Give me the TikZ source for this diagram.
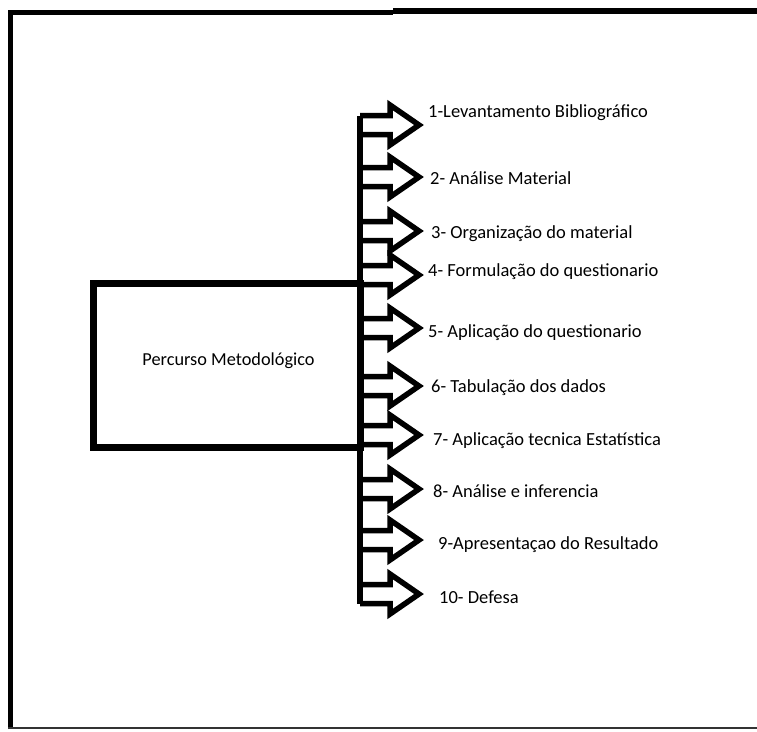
\documentclass[tikz,border=0pt]{standalone}
\usepackage{fontspec}
\setmainfont{Carlito}
\begin{document}
\begin{tikzpicture}[x=1pt,y=-1pt,
  frameline/.style={line width=5.5pt},
  blockarrow/.style={line width=5.5pt, line join=miter, miter limit=10},
  trunk/.style={line width=6pt},
  lbl/.style={anchor=base west, inner sep=0pt, font=\fontsize{18.5}{20}\selectfont}]
\useasboundingbox (0,0) rectangle (757,731);
% outer frame
\coordinate (fl1) at (10.5,729);
\coordinate (fl2) at (10.5,10);
\coordinate (ft1) at (8,12.7);
\coordinate (ft2) at (393,12.7);
\coordinate (ft3) at (393,11);
\coordinate (ft4) at (757,11);
\coordinate (fb1) at (8,728);
\coordinate (fb2) at (757,728);
\draw[frameline] (fl1) -- (fl2);
\draw[frameline] (ft1) -- (ft2);
\draw[frameline] (ft3) -- (ft4);
\draw[line width=2pt, black!80] (fb1) -- (fb2);
% main box
\node (box) [draw, line width=7pt, minimum width=266.5pt, minimum height=164pt, inner sep=0pt] at (226.75,365) {};
\node (title) [anchor=base, inner sep=0pt, font=\fontsize{18.3}{20}\selectfont] at (228.5,365) {Percurso Metodológico};
% trunk
\coordinate (ttop) at (360,115.5);
\coordinate (tbot) at (360,604);
\draw[trunk] (ttop) -- (tbot);
% block arrows
\foreach \c in {125,177,231,275,328,386,435,489,540,594}{
  \draw[blockarrow] (360,\c-9.5) -- (390,\c-9.5) -- (390,\c-20) -- (419,\c) -- (390,\c+20) -- (390,\c+9.5) -- (360,\c+9.5);
}
% labels
\node (l1) [lbl] at (428,117) {1-Levantamento Bibliográfico};
\node (l2) [lbl] at (430,184) {2- Análise Material};
\node (l3) [lbl] at (431,238) {3- Organização do material};
\node (l4) [lbl] at (428,276) {4- Formulação do questionario};
\node (l5) [lbl] at (428,337) {5- Aplicação do questionario};
\node (l6) [lbl] at (431,392) {6- Tabulação dos dados};
\node (l7) [lbl] at (433,445) {7- Aplicação tecnica Estatística};
\node (l8) [lbl] at (433,497) {8- Análise e inferencia};
\node (l9) [lbl] at (438,549) {9-Apresentaçao do Resultado};
\node (l10) [lbl] at (439,603) {10- Defesa};
\end{tikzpicture}
\end{document}
